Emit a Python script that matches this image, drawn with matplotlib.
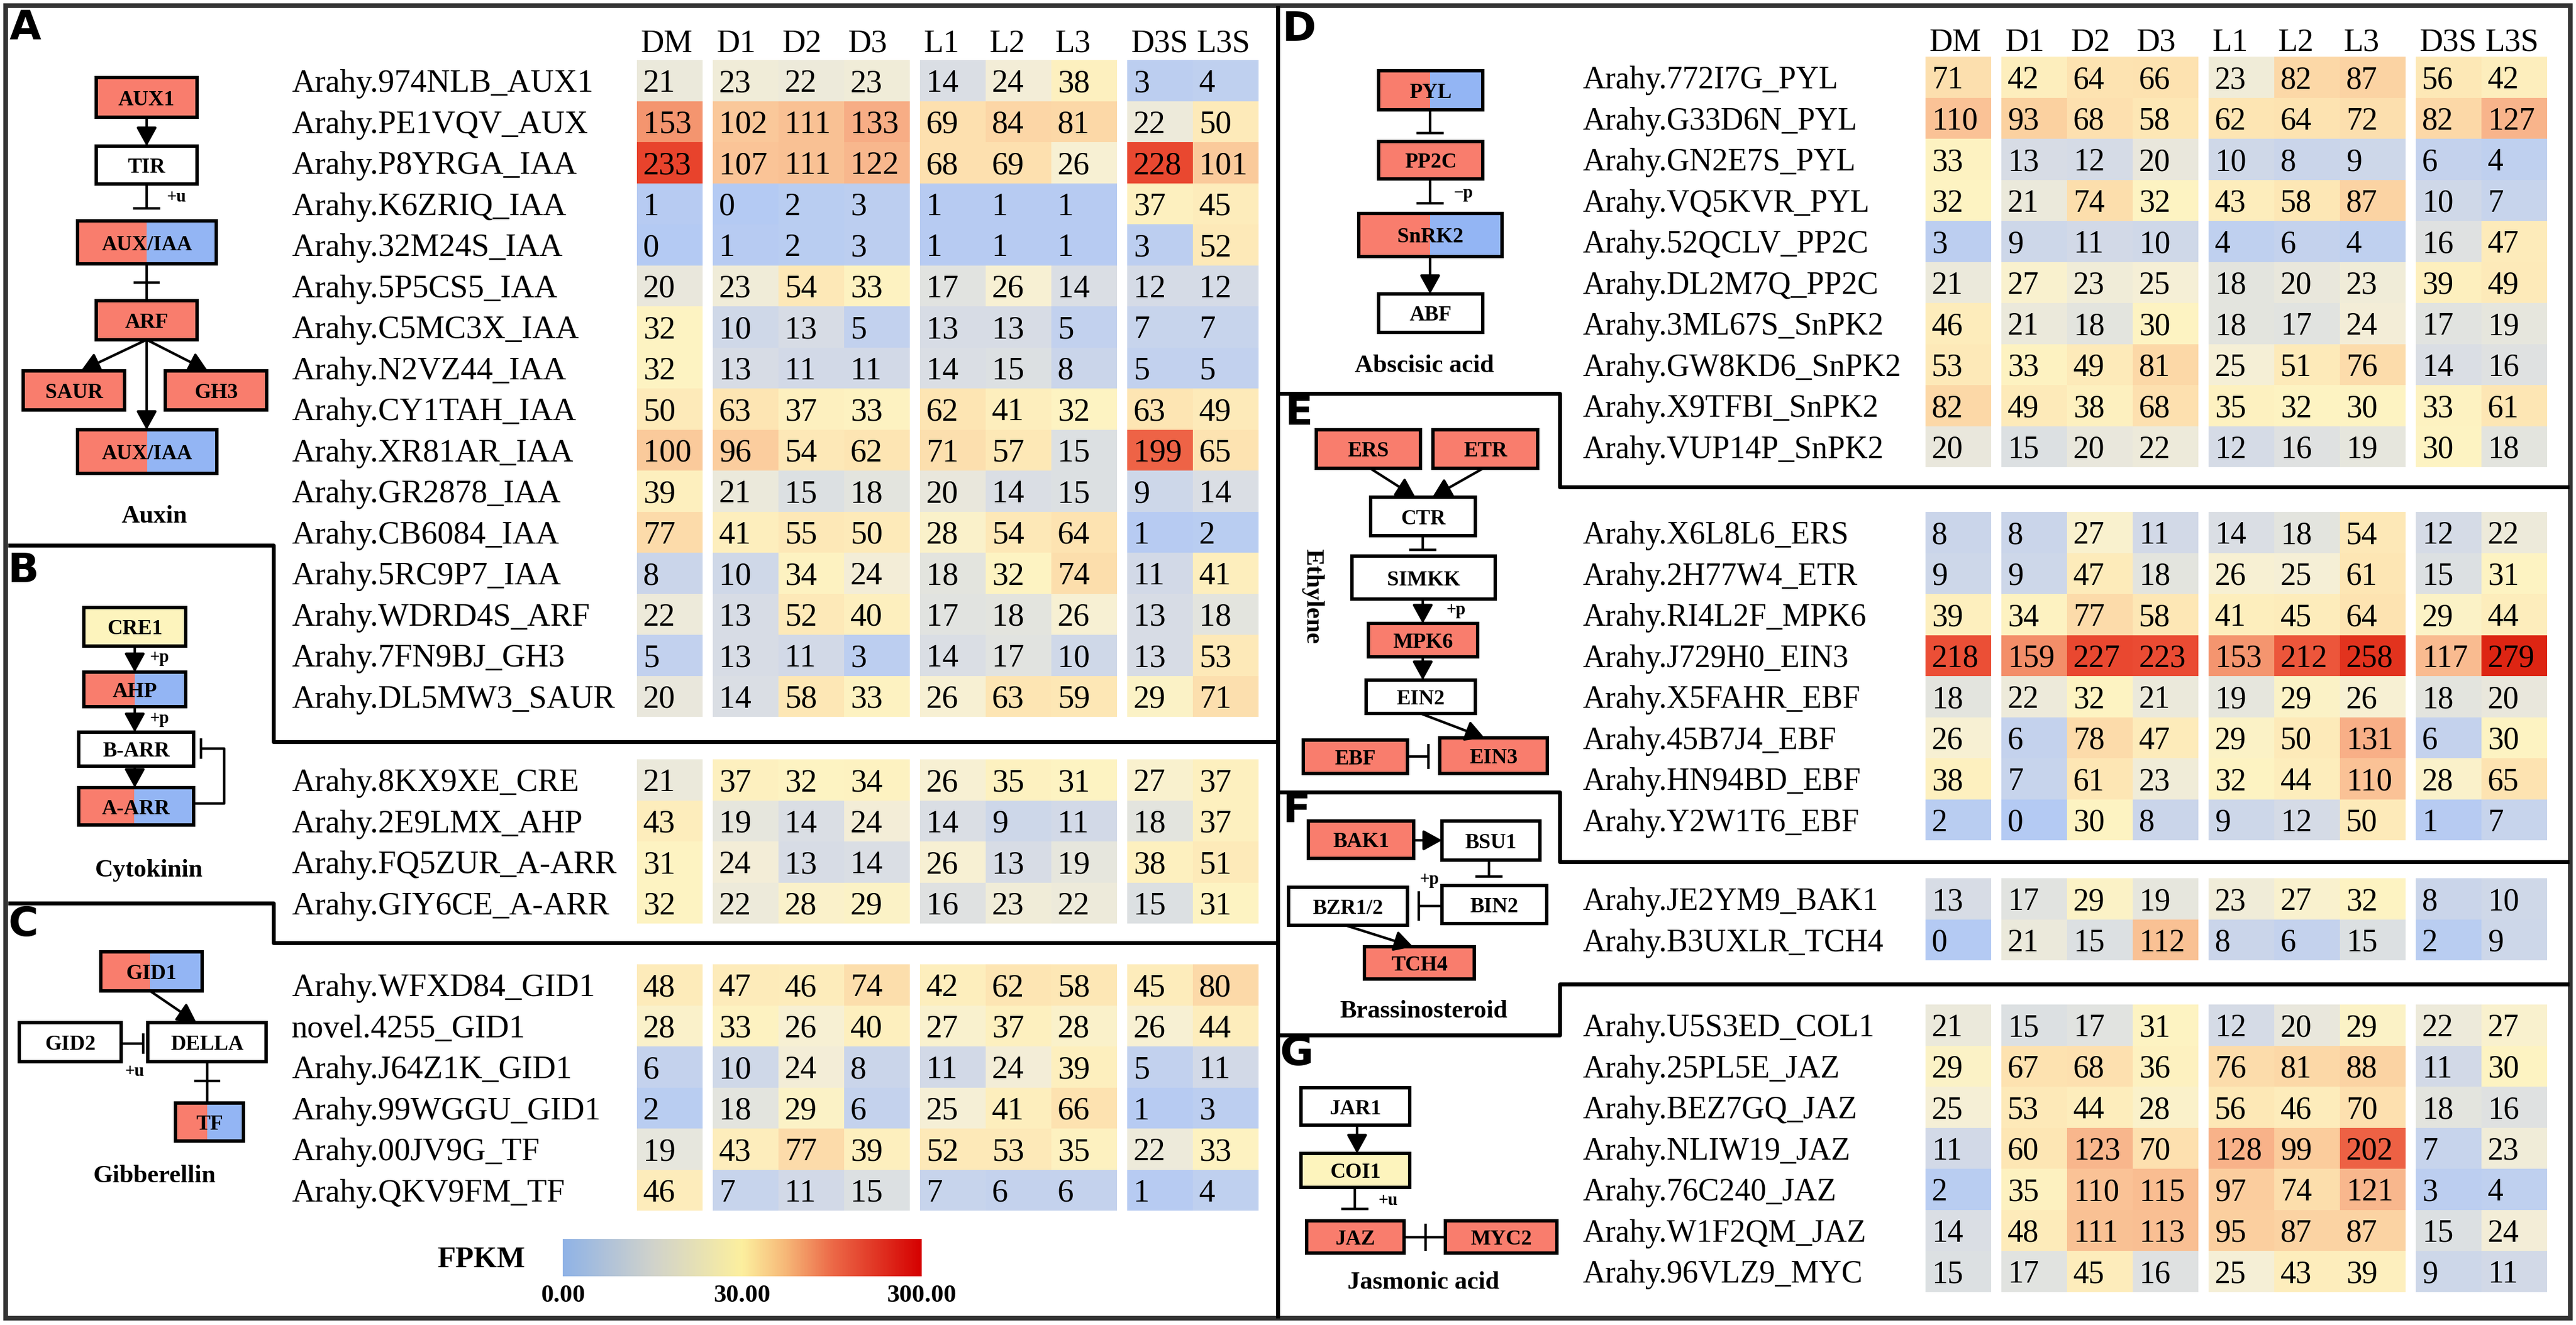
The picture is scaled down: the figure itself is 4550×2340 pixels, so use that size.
import numpy as np
import matplotlib
matplotlib.use('Agg')
import matplotlib.pyplot as plt
from matplotlib.colors import LinearSegmentedColormap, TwoSlopeNorm
from matplotlib.cm import ScalarMappable
from matplotlib.patches import Rectangle

W, H = 4550, 2340
SERIF = 'Liberation Serif'

samples = ['DM', 'D1', 'D2', 'D3', 'L1', 'L2', 'L3', 'D3S', 'L3S']

# A - auxin
auxin_genes = ['Arahy.974NLB_AUX1', 'Arahy.PE1VQV_AUX', 'Arahy.P8YRGA_IAA', 'Arahy.K6ZRIQ_IAA',
               'Arahy.32M24S_IAA', 'Arahy.5P5CS5_IAA', 'Arahy.C5MC3X_IAA', 'Arahy.N2VZ44_IAA',
               'Arahy.CY1TAH_IAA', 'Arahy.XR81AR_IAA', 'Arahy.GR2878_IAA', 'Arahy.CB6084_IAA',
               'Arahy.5RC9P7_IAA', 'Arahy.WDRD4S_ARF', 'Arahy.7FN9BJ_GH3', 'Arahy.DL5MW3_SAUR']
auxin_fpkm = [[21, 23, 22, 23, 14, 24, 38, 3, 4],
              [153, 102, 111, 133, 69, 84, 81, 22, 50],
              [233, 107, 111, 122, 68, 69, 26, 228, 101],
              [1, 0, 2, 3, 1, 1, 1, 37, 45],
              [0, 1, 2, 3, 1, 1, 1, 3, 52],
              [20, 23, 54, 33, 17, 26, 14, 12, 12],
              [32, 10, 13, 5, 13, 13, 5, 7, 7],
              [32, 13, 11, 11, 14, 15, 8, 5, 5],
              [50, 63, 37, 33, 62, 41, 32, 63, 49],
              [100, 96, 54, 62, 71, 57, 15, 199, 65],
              [39, 21, 15, 18, 20, 14, 15, 9, 14],
              [77, 41, 55, 50, 28, 54, 64, 1, 2],
              [8, 10, 34, 24, 18, 32, 74, 11, 41],
              [22, 13, 52, 40, 17, 18, 26, 13, 18],
              [5, 13, 11, 3, 14, 17, 10, 13, 53],
              [20, 14, 58, 33, 26, 63, 59, 29, 71]]

# B - cytokinin
cyto_genes = ['Arahy.8KX9XE_CRE', 'Arahy.2E9LMX_AHP', 'Arahy.FQ5ZUR_A-ARR', 'Arahy.GIY6CE_A-ARR']
cyto_fpkm = [[21, 37, 32, 34, 26, 35, 31, 27, 37],
             [43, 19, 14, 24, 14, 9, 11, 18, 37],
             [31, 24, 13, 14, 26, 13, 19, 38, 51],
             [32, 22, 28, 29, 16, 23, 22, 15, 31]]

# C - gibberellin
gib_genes = ['Arahy.WFXD84_GID1', 'novel.4255_GID1', 'Arahy.J64Z1K_GID1', 'Arahy.99WGGU_GID1',
             'Arahy.00JV9G_TF', 'Arahy.QKV9FM_TF']
gib_fpkm = [[48, 47, 46, 74, 42, 62, 58, 45, 80],
            [28, 33, 26, 40, 27, 37, 28, 26, 44],
            [6, 10, 24, 8, 11, 24, 39, 5, 11],
            [2, 18, 29, 6, 25, 41, 66, 1, 3],
            [19, 43, 77, 39, 52, 53, 35, 22, 33],
            [46, 7, 11, 15, 7, 6, 6, 1, 4]]

# D - abscisic acid
aba_genes = ['Arahy.772I7G_PYL', 'Arahy.G33D6N_PYL', 'Arahy.GN2E7S_PYL', 'Arahy.VQ5KVR_PYL',
             'Arahy.52QCLV_PP2C', 'Arahy.DL2M7Q_PP2C', 'Arahy.3ML67S_SnPK2', 'Arahy.GW8KD6_SnPK2',
             'Arahy.X9TFBI_SnPK2', 'Arahy.VUP14P_SnPK2']
aba_fpkm = [[71, 42, 64, 66, 23, 82, 87, 56, 42],
            [110, 93, 68, 58, 62, 64, 72, 82, 127],
            [33, 13, 12, 20, 10, 8, 9, 6, 4],
            [32, 21, 74, 32, 43, 58, 87, 10, 7],
            [3, 9, 11, 10, 4, 6, 4, 16, 47],
            [21, 27, 23, 25, 18, 20, 23, 39, 49],
            [46, 21, 18, 30, 18, 17, 24, 17, 19],
            [53, 33, 49, 81, 25, 51, 76, 14, 16],
            [82, 49, 38, 68, 35, 32, 30, 33, 61],
            [20, 15, 20, 22, 12, 16, 19, 30, 18]]

# E - ethylene
eth_genes = ['Arahy.X6L8L6_ERS', 'Arahy.2H77W4_ETR', 'Arahy.RI4L2F_MPK6', 'Arahy.J729H0_EIN3',
             'Arahy.X5FAHR_EBF', 'Arahy.45B7J4_EBF', 'Arahy.HN94BD_EBF', 'Arahy.Y2W1T6_EBF']
eth_fpkm = [[8, 8, 27, 11, 14, 18, 54, 12, 22],
            [9, 9, 47, 18, 26, 25, 61, 15, 31],
            [39, 34, 77, 58, 41, 45, 64, 29, 44],
            [218, 159, 227, 223, 153, 212, 258, 117, 279],
            [18, 22, 32, 21, 19, 29, 26, 18, 20],
            [26, 6, 78, 47, 29, 50, 131, 6, 30],
            [38, 7, 61, 23, 32, 44, 110, 28, 65],
            [2, 0, 30, 8, 9, 12, 50, 1, 7]]

# F - brassinosteroid
br_genes = ['Arahy.JE2YM9_BAK1', 'Arahy.B3UXLR_TCH4']
br_fpkm = [[13, 17, 29, 19, 23, 27, 32, 8, 10],
           [0, 21, 15, 112, 8, 6, 15, 2, 9]]

# G - jasmonic acid
ja_genes = ['Arahy.U5S3ED_COL1', 'Arahy.25PL5E_JAZ', 'Arahy.BEZ7GQ_JAZ', 'Arahy.NLIW19_JAZ',
            'Arahy.76C240_JAZ', 'Arahy.W1F2QM_JAZ', 'Arahy.96VLZ9_MYC']
ja_fpkm = [[21, 15, 17, 31, 12, 20, 29, 22, 27],
           [29, 67, 68, 36, 76, 81, 88, 11, 30],
           [25, 53, 44, 28, 56, 46, 70, 18, 16],
           [11, 60, 123, 70, 128, 99, 202, 7, 23],
           [2, 35, 110, 115, 97, 74, 121, 3, 4],
           [14, 48, 111, 113, 95, 87, 87, 15, 24],
           [15, 17, 45, 16, 25, 43, 39, 9, 11]]

cbar_ticks = [0, 30, 300]

# colour scales: cells are paler than the legend bar
cell_cmap = LinearSegmentedColormap.from_list('cells', [
    (0.0, '#b4caf3'), (0.2, '#d5dbe6'), (0.33, '#e8e7dc'), (0.42, '#f6efd6'),
    (0.5, '#fdf3c2'), (0.56, '#fde5b3'), (0.62, '#fbcf9f'), (0.68, '#f8b38a'),
    (0.76, '#f2825f'), (0.86, '#ea4a32'), (1.0, '#d81808')])
bar_cmap = LinearSegmentedColormap.from_list('bar', [
    (0.0, '#8fb2e6'), (0.25, '#d0d2cb'), (0.5, '#fcef9e'), (0.62, '#f6b878'),
    (0.75, '#ec6a48'), (1.0, '#d50000')])
norm = TwoSlopeNorm(vmin=0, vcenter=30, vmax=300)

RED, BLUE, YEL = '#f97d6d', '#93b5f4', '#fdf4bd'

fig = plt.figure(figsize=(W / 100, H / 100), dpi=100)
ax = fig.add_axes([0, 0, 1, 1])
ax.set_xlim(0, W)
ax.set_ylim(H, 0)
ax.axis('off')

col_w, gap, row_h = 116, 18, 72.5
groups = [(0, 1), (1, 4), (4, 7), (7, 9)]


def col_left(j):
    g = sum(1 for s, e in groups[1:] if j >= s)
    return j + g * gap / col_w


def heatmap(x0, y0, label_x, genes, vals, header_y=None, fs=40):
    n = len(genes)
    v = np.array(vals, float)
    width = col_left(8) + 1
    hax = fig.add_axes([x0 / W, 1 - (y0 + n * row_h) / H, width * col_w / W, n * row_h / H])
    for s, e in groups:
        xs = col_left(s) + np.arange(e - s + 1)
        hax.pcolormesh(xs, np.arange(n + 1), v[:, s:e], cmap=cell_cmap, norm=norm)
    hax.set_xlim(0, width)
    hax.set_ylim(n, 0)
    hax.axis('off')
    off = 11 / col_w
    for i in range(n):
        hax.text((label_x - x0) / col_w, i + 0.5, genes[i], fontsize=fs, family=SERIF,
                 ha='left', va='center_baseline')
        for j in range(9):
            hax.text(col_left(j) + off, i + 0.5, str(vals[i][j]), fontsize=fs, family=SERIF,
                     ha='left', va='center_baseline')
    if header_y is not None:
        for j, s in enumerate(samples):
            hax.text(col_left(j) + off * 0.6, (header_y - y0) / row_h, s, fontsize=41,
                     family=SERIF, ha='left', va='center_baseline')


def box(x0, y0, x1, y1, text, fill='white', split=None, fs=27):
    if split is None:
        ax.add_patch(Rectangle((x0, y0), x1 - x0, y1 - y0, fc=fill, ec='none'))
    else:
        ax.add_patch(Rectangle((x0, y0), split - x0, y1 - y0, fc=RED, ec='none'))
        ax.add_patch(Rectangle((split, y0), x1 - split, y1 - y0, fc=BLUE, ec='none'))
    ax.add_patch(Rectangle((x0, y0), x1 - x0, y1 - y0, fc='none', ec='black', lw=4.3))
    ax.text((x0 + x1) / 2, (y0 + y1) / 2, text, fontsize=fs, family=SERIF, weight='bold',
            ha='center', va='center_baseline')


def arrow(x0, y0, x1, y1):
    ax.annotate('', xy=(x1, y1), xytext=(x0, y0),
                arrowprops=dict(arrowstyle='-|>,head_length=0.4,head_width=0.22', lw=3.2,
                                color='black', mutation_scale=50, shrinkA=0, shrinkB=0))


def line(xs, ys, lw=3.2):
    ax.plot(xs, ys, color='black', lw=lw, solid_capstyle='butt')


def inhibit_v(x, y0, y1, half=24):
    line([x, x], [y0, y1])
    line([x - half, x + half], [y1, y1])


def inhibit_h(y, x0, x1, half=22):
    line([x0, x1], [y, y])
    line([x1, x1], [y - half, y + half])


def small(x, y, s):
    ax.text(x, y, s, fontsize=22, family=SERIF, weight='bold', ha='center', va='center')


def caption(x, y, s, rot=0):
    ax.text(x, y, s, fontsize=32, family=SERIF, weight='bold', ha='center', va='center',
            rotation=rot)


def letter(x, y, s):
    ax.text(x, y, s, fontsize=52, family='DejaVu Sans', weight='bold', ha='center',
            va='center')


# ---- frame and panel borders
ax.add_patch(Rectangle((10, 10), 4530, 2318, fc='none', ec='#333333', lw=6))
DIV = 2257
line([DIV, DIV], [10, 2328], lw=5)
line([14, 483, 483, DIV], [963, 963, 1310, 1310], lw=5)
line([14, 483, 483, DIV], [1595, 1595, 1665, 1665], lw=5)
STEP = 2755
line([DIV, STEP, STEP, 4538], [695, 695, 860, 860], lw=5)
line([DIV, STEP, STEP, 4538], [1399, 1399, 1522, 1522], lw=5)
line([DIV, STEP, STEP, 4538], [1828, 1828, 1738, 1738], lw=5)

# ---- heatmaps
heatmap(1125, 106, 515, auxin_genes, auxin_fpkm, header_y=72, fs=41)
heatmap(1125, 1341, 515, cyto_genes, cyto_fpkm, fs=41)
heatmap(1125, 1703, 515, gib_genes, gib_fpkm, fs=41)
heatmap(3401, 100, 2795, aba_genes, aba_fpkm, header_y=70)
heatmap(3401, 904, 2795, eth_genes, eth_fpkm)
heatmap(3401, 1551, 2795, br_genes, br_fpkm)
heatmap(3401, 1774, 2795, ja_genes, ja_fpkm)

# ---- A auxin pathway
letter(45, 50, 'A')
box(170, 137, 348, 207, 'AUX1', RED)
arrow(259, 207, 259, 258)
box(170, 258, 348, 325, 'TIR')
inhibit_v(259, 325, 368)
small(312, 348, '+u')
box(137, 390, 382, 466, 'AUX/IAA', split=259)
line([259, 259], [466, 531])
line([236, 282], [499, 499])
box(170, 531, 348, 600, 'ARF', RED)
arrow(259, 600, 143, 655)
arrow(259, 600, 367, 655)
arrow(259, 600, 259, 759)
box(41, 655, 220, 724, 'SAUR', RED)
box(292, 655, 471, 724, 'GH3', RED)
box(137, 759, 383, 836, 'AUX/IAA', split=260)
caption(273, 912, 'Auxin')

# ---- B cytokinin pathway
letter(41, 1008, 'B')
box(148, 1073, 328, 1141, 'CRE1', YEL)
arrow(238, 1141, 238, 1187)
small(282, 1162, '+p')
box(148, 1187, 328, 1248, 'AHP', split=238)
arrow(238, 1248, 238, 1293)
small(282, 1270, '+p')
box(139, 1293, 342, 1353, 'B-ARR')
arrow(238, 1353, 238, 1391)
box(139, 1391, 342, 1457, 'A-ARR', split=237)
line([342, 396, 396, 355], [1419, 1419, 1322, 1322])
line([355, 355], [1304, 1340])
caption(263, 1537, 'Cytokinin')

# ---- C gibberellin pathway
letter(41, 1633, 'C')
box(178, 1681, 357, 1750, 'GID1', split=265)
arrow(265, 1750, 347, 1806)
box(34, 1806, 214, 1875, 'GID2')
box(261, 1806, 470, 1875, 'DELLA')
inhibit_h(1843, 214, 253, half=18)
small(238, 1892, '+u')
line([366, 366], [1875, 1948])
line([343, 389], [1909, 1909])
box(310, 1948, 430, 2015, 'TF', split=366)
caption(273, 2077, 'Gibberellin')

# ---- D abscisic acid pathway
letter(2294, 52, 'D')
box(2435, 125, 2619, 194, 'PYL', split=2526)
inhibit_v(2526, 194, 235)
box(2435, 250, 2619, 316, 'PP2C', RED)
inhibit_v(2526, 316, 359)
small(2585, 341, '\u2212p')
box(2400, 377, 2653, 453, 'SnRK2', split=2526)
arrow(2526, 453, 2526, 519)
box(2435, 519, 2619, 587, 'ABF')
caption(2516, 646, 'Abscisic acid')

# ---- E ethylene pathway
letter(2294, 730, 'E')
box(2325, 759, 2509, 827, 'ERS', RED)
box(2531, 759, 2716, 827, 'ETR', RED)
arrow(2420, 827, 2500, 878)
arrow(2620, 827, 2530, 878)
box(2421, 878, 2606, 946, 'CTR')
inhibit_v(2513, 946, 971)
box(2388, 982, 2641, 1058, 'SIMKK')
arrow(2513, 1058, 2513, 1101)
small(2572, 1077, '+p')
box(2417, 1101, 2610, 1160, 'MPK6', RED)
arrow(2513, 1160, 2513, 1201)
box(2413, 1201, 2606, 1260, 'EIN2')
arrow(2509, 1260, 2622, 1303)
box(2302, 1307, 2486, 1366, 'EBF', RED)
inhibit_h(1336, 2486, 2523)
box(2543, 1303, 2733, 1366, 'EIN3', RED)
caption(2318, 1053, 'Ethylene', rot=270)

# ---- F brassinosteroid pathway
letter(2290, 1432, 'F')
box(2311, 1450, 2497, 1516, 'BAK1', RED)
arrow(2497, 1484, 2547, 1484)
box(2547, 1450, 2720, 1519, 'BSU1')
inhibit_v(2630, 1519, 1548)
box(2547, 1564, 2732, 1631, 'BIN2')
box(2276, 1567, 2486, 1634, 'BZR1/2')
inhibit_h(1600, 2547, 2506, half=26)
small(2525, 1553, '+p')
arrow(2376, 1634, 2496, 1672)
box(2410, 1672, 2604, 1729, 'TCH4', RED)
caption(2514, 1786, 'Brassinosteroid')

# ---- G jasmonic acid pathway
letter(2290, 1862, 'G')
box(2298, 1921, 2490, 1987, 'JAR1')
arrow(2397, 1987, 2397, 2037)
box(2298, 2037, 2490, 2097, 'COI1', YEL)
inhibit_v(2393, 2097, 2135)
small(2452, 2121, '+u')
box(2308, 2156, 2480, 2213, 'JAZ', RED)
line([2480, 2553], [2185, 2185])
line([2518, 2518], [2161, 2209])
box(2553, 2156, 2750, 2213, 'MYC2', RED)
caption(2514, 2265, 'Jasmonic acid')

# ---- colour legend
cax = fig.add_axes([994 / W, 1 - 2254 / H, (1628 - 994) / W, (2254 - 2188) / H])
cb = fig.colorbar(ScalarMappable(norm=norm, cmap=bar_cmap), cax=cax, orientation='horizontal',
                  ticks=cbar_ticks, format='%.2f')
cb.outline.set_visible(False)
cax.tick_params(length=0, pad=10)
for t in cax.get_xticklabels():
    t.set_fontfamily(SERIF)
    t.set_fontweight('bold')
    t.set_fontsize(32)
ax.text(850, 2220, 'FPKM', fontsize=38, family=SERIF, weight='bold', ha='center',
        va='center_baseline')

fig.savefig('out.png', dpi=100)
